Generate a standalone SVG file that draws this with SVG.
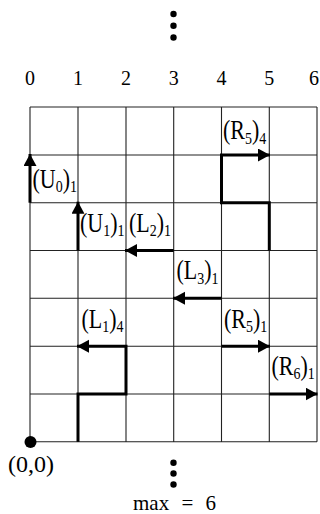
<svg xmlns="http://www.w3.org/2000/svg" width="320" height="514" viewBox="0 0 320 514">
<style>
.grid{stroke:#222;stroke-width:1.1;fill:none}
.path{stroke:#000;stroke-width:3;fill:none;stroke-linejoin:miter;stroke-linecap:butt}
text{font-family:'Liberation Serif','Times New Roman',serif;fill:#000}
.num{font-size:20px;text-anchor:middle}
.lab{font-size:22px}
.s{font-size:14px}
.dot{fill:#000}
</style>
<defs>
<marker id="ah" markerUnits="userSpaceOnUse" markerWidth="13" markerHeight="14" refX="12" refY="6.5" orient="auto">
<path d="M0,0 L12,6.5 L0,13 Z" fill="#000"/>
</marker>
</defs>
<rect width="320" height="514" fill="#fff"/>

<g id="grid">
<path class="grid" d="M30,107 H317 M30,155 H317 M30,202.7 H317 M30,250.5 H317 M30,298.3 H317 M30,346.2 H317 M30,394 H317 M30,441.8 H317
M30,107 V441.8 M78,107 V441.8 M126,107 V441.8 M173.7,107 V441.8 M221.5,107 V441.8 M269.3,107 V441.8 M317,107 V441.8"/>
</g>

<g id="axis-labels">
<text class="num" x="30" y="85">0</text>
<text class="num" x="78" y="85">1</text>
<text class="num" x="126" y="85">2</text>
<text class="num" x="173.7" y="85">3</text>
<text class="num" x="221.5" y="85">4</text>
<text class="num" x="269.3" y="85">5</text>
<text class="num" x="314" y="85">6</text>
</g>

<g id="top-dots" class="dot">
<circle cx="173.5" cy="14" r="3.2"/>
<circle cx="173.5" cy="25.7" r="3.2"/>
<circle cx="173.5" cy="37.5" r="3.2"/>
</g>

<g id="connectors">
<path class="path" d="M30,202.7 V154" marker-end="url(#ah)"/>
<path class="path" d="M78,250.5 V201.7" marker-end="url(#ah)"/>
<path class="path" d="M173.7,250.5 H125" marker-end="url(#ah)"/>
<path class="path" d="M269.3,250.5 V202.7 H221.5 V155 H270" marker-end="url(#ah)"/>
<path class="path" d="M221.5,298.3 H173" marker-end="url(#ah)"/>
<path class="path" d="M221.5,346.2 H270" marker-end="url(#ah)"/>
<path class="path" d="M269.3,394 H317.5" marker-end="url(#ah)"/>
<path class="path" d="M78,441.8 V394 H126 V346.2 H77" marker-end="url(#ah)"/>
</g>

<g id="label-U0"><text class="lab" transform="translate(32.5,187.5) scale(1,1.2)">(U<tspan class="s" dy="3.5">0</tspan><tspan dy="-3.5">)</tspan><tspan class="s" dy="3.5">1</tspan></text></g>
<g id="label-U1"><text class="lab" transform="translate(80,232) scale(1,1.2)">(U<tspan class="s" dy="3.5">1</tspan><tspan dy="-3.5">)</tspan><tspan class="s" dy="3.5">1</tspan></text></g>
<g id="label-L2"><text class="lab" transform="translate(129,232) scale(1,1.2)">(L<tspan class="s" dy="3.5">2</tspan><tspan dy="-3.5">)</tspan><tspan class="s" dy="3.5">1</tspan></text></g>
<g id="label-R5-4"><text class="lab" transform="translate(223,139.3) scale(1,1.2)">(R<tspan class="s" dy="3.5">5</tspan><tspan dy="-3.5">)</tspan><tspan class="s" dy="3.5">4</tspan></text></g>
<g id="label-L3"><text class="lab" transform="translate(176.5,279.3) scale(1,1.2)">(L<tspan class="s" dy="3.5">3</tspan><tspan dy="-3.5">)</tspan><tspan class="s" dy="3.5">1</tspan></text></g>
<g id="label-L1-4"><text class="lab" transform="translate(81.5,327.7) scale(1,1.2)">(L<tspan class="s" dy="3.5">1</tspan><tspan dy="-3.5">)</tspan><tspan class="s" dy="3.5">4</tspan></text></g>
<g id="label-R5-1"><text class="lab" transform="translate(224,327.7) scale(1,1.2)">(R<tspan class="s" dy="3.5">5</tspan><tspan dy="-3.5">)</tspan><tspan class="s" dy="3.5">1</tspan></text></g>
<g id="label-R6-1"><text class="lab" transform="translate(271.5,375) scale(1,1.2)">(R<tspan class="s" dy="3.5">6</tspan><tspan dy="-3.5">)</tspan><tspan class="s" dy="3.5">1</tspan></text></g>

<g id="origin">
<circle class="dot" cx="30.5" cy="442" r="6"/>
<text x="31" y="472" font-size="24" text-anchor="middle">(0,0)</text>
</g>

<g id="bottom-dots" class="dot">
<circle cx="173.5" cy="462.7" r="3.2"/>
<circle cx="173.5" cy="473.5" r="3.2"/>
<circle cx="173.5" cy="484.5" r="3.2"/>
</g>

<g id="max-label">
<text x="133" y="509.5" font-size="21" word-spacing="7">max = 6</text>
</g>
</svg>
